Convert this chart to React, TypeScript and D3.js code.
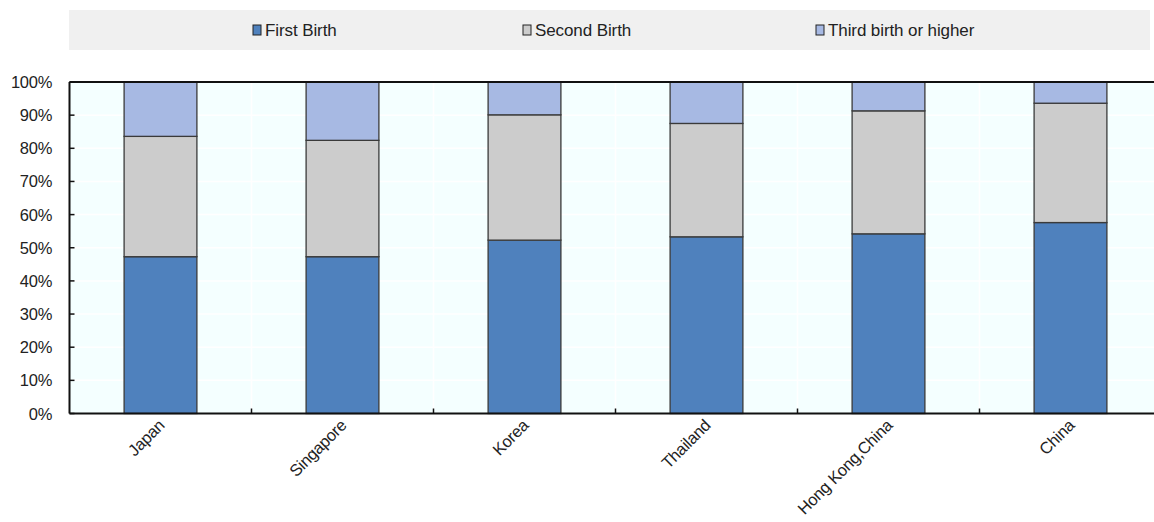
import React from "react";
import * as d3 from "d3";

const categories = ["Japan", "Singapore", "Korea", "Thailand", "Hong Kong,China", "China"];
const firstBirth = [47.3, 47.3, 52.3, 53.3, 54.2, 57.6];
const secondBirth = [36.3, 35.1, 37.8, 34.2, 37.1, 36.0];
const thirdBirth = [16.4, 17.6, 9.9, 12.5, 8.7, 6.4];
const seriesNames = ["First Birth", "Second Birth", "Third birth or higher"];
const seriesColors = ["#4F81BD", "#CCCCCC", "#A7B9E3"];
const yTicks = [0, 10, 20, 30, 40, 50, 60, 70, 80, 90, 100];

const W = 1154;
const H = 522;
const left = 69.5;
const top = 82;
const bottom = 413.5;
const step = 182;
const font = "'Liberation Sans', Arial, sans-serif";

export default function App() {
  const x = d3
    .scaleBand<string>()
    .domain(categories)
    .range([left, left + step * categories.length])
    .padding(0);
  const y = d3.scaleLinear().domain([0, 100]).range([bottom, top]);
  const barW = x.bandwidth() * 0.4;

  const rows = categories.map((c, i) => ({
    c,
    first: firstBirth[i],
    second: secondBirth[i],
    third: thirdBirth[i],
  }));
  const stack = d3.stack<any>().keys(["first", "second", "third"]);
  const stacked = stack(rows);

  const plotRight = left + step * categories.length;
  const legendX = [253, 523, 816];

  return (
    <svg
      width={W}
      height={H}
      style={{ position: "absolute", left: 0, top: 0, background: "#fff" }}
      fontFamily={font}
    >
      {/* legend */}
      <rect x={69} y={10} width={1081} height={40} fill="#F0F0F0" />
      {seriesNames.map((n, i) => (
        <g key={n}>
          <rect
            x={legendX[i]}
            y={25}
            width={8}
            height={10}
            fill={seriesColors[i]}
            stroke="#222"
            strokeWidth={1}
          />
          <text x={legendX[i] + 12} y={36} fontSize={17} fill="#222" letterSpacing={-0.1}>
            {n}
          </text>
        </g>
      ))}

      {/* plot background */}
      <rect x={left} y={top} width={plotRight - left} height={bottom - top} fill="#F4FFFF" />
      {yTicks.slice(1, -1).map((t) => (
        <line key={t} x1={left} x2={plotRight} y1={y(t)} y2={y(t)} stroke="#fff" strokeWidth={1.5} />
      ))}
      {categories.slice(1).map((c) => (
        <line
          key={c}
          x1={x(c)!}
          x2={x(c)!}
          y1={top}
          y2={bottom}
          stroke="#fff"
          strokeWidth={1.5}
        />
      ))}

      {/* bars */}
      {stacked.map((s, si) => (
        <g key={si}>
          {s.map((d, i) => {
            const cx = x(categories[i])! + x.bandwidth() / 2;
            return (
              <rect
                key={i}
                x={cx - barW / 2}
                y={y(d[1])}
                width={barW}
                height={y(d[0]) - y(d[1])}
                fill={seriesColors[si]}
                stroke="#3a3a3a"
                strokeWidth={1.3}
              />
            );
          })}
        </g>
      ))}

      {/* axes */}
      <line x1={left} x2={plotRight} y1={top} y2={top} stroke="#111" strokeWidth={2} />
      <line x1={left} x2={plotRight} y1={bottom} y2={bottom} stroke="#111" strokeWidth={2} />
      <line x1={left} x2={left} y1={top} y2={bottom} stroke="#111" strokeWidth={2} />
      {yTicks.map((t) => (
        <g key={t}>
          <line x1={left} x2={left + 5} y1={y(t)} y2={y(t)} stroke="#111" strokeWidth={1.5} />
          <text
            x={52}
            y={y(t) + 6}
            textAnchor="end"
            fontSize={16.5}
            fill="#222"
            letterSpacing={-0.3}
          >
            {t}%
          </text>
        </g>
      ))}
      {categories.slice(1).map((c) => (
        <line key={c} x1={x(c)!} x2={x(c)!} y1={bottom} y2={bottom - 5} stroke="#111" strokeWidth={1.5} />
      ))}
      {categories.map((c) => {
        const cx = x(c)! + x.bandwidth() / 2 + 5;
        const cy = bottom + 13;
        return (
          <text
            key={c}
            x={cx}
            y={cy}
            textAnchor="end"
            fontSize={16.5}
            fill="#222"
            letterSpacing={-0.3}
            transform={`rotate(-45 ${cx} ${cy})`}
          >
            {c}
          </text>
        );
      })}
    </svg>
  );
}
